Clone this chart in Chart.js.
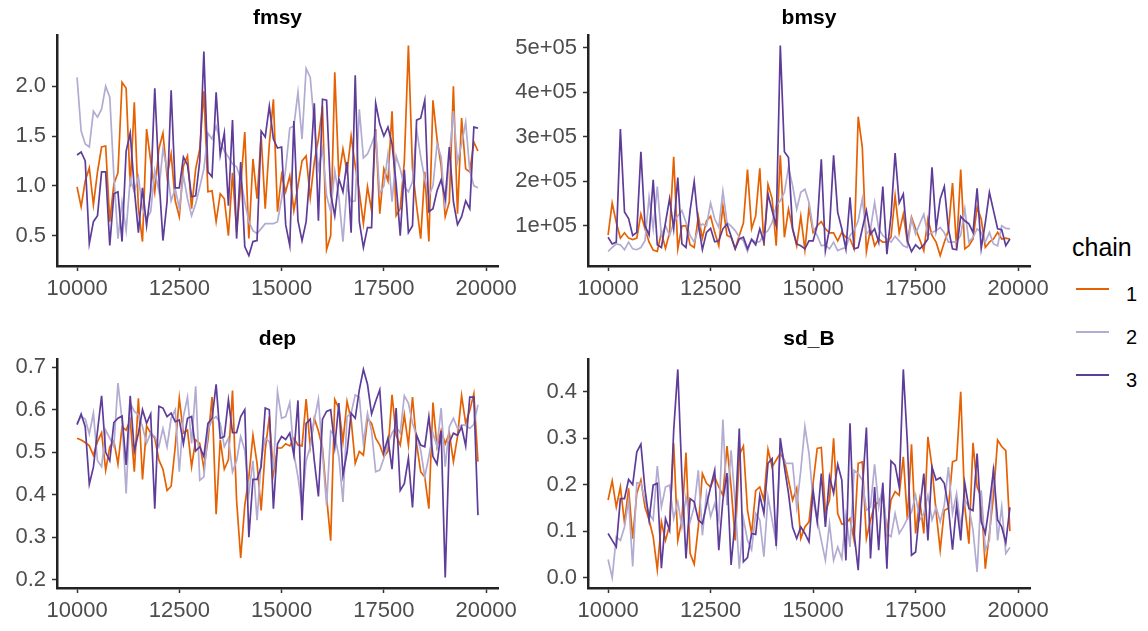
<!DOCTYPE html>
<html>
<head>
<meta charset="utf-8">
<script src="https://cdn.jsdelivr.net/npm/chart.js@4/dist/chart.umd.min.js"></script>
<style>
  body { margin: 0; background: #fff; width: 1148px; height: 631px; position: relative; overflow: hidden;
         font-family: "Liberation Sans", Arial, sans-serif; }
  canvas { position: absolute; }
  .leg-title { position: absolute; font-size: 25px; line-height: 25px; color: #000; }
  .leg-key { position: absolute; width: 33px; height: 2px; }
  .leg-lab { position: absolute; font-size: 20px; line-height: 20px; color: #000; }
</style>
</head>
<body>
<canvas id="fmsy"></canvas>
<canvas id="bmsy"></canvas>
<canvas id="dep"></canvas>
<canvas id="sdB"></canvas>

<div class="leg-title" style="left:1072px;top:235px">chain</div>
<div class="leg-key" style="left:1076px;top:288px;background:#E66101"></div>
<div class="leg-lab" style="left:1126px;top:284px">1</div>
<div class="leg-key" style="left:1076px;top:331px;background:#B2ABD2"></div>
<div class="leg-lab" style="left:1126px;top:327px">2</div>
<div class="leg-key" style="left:1076px;top:374px;background:#5E3C99"></div>
<div class="leg-lab" style="left:1126px;top:370px">3</div>

<script>
// iterations (x axis)
var iters = [
  10000,10100,10200,10300,10400,10500,10600,10700,10800,10900,
  11000,11100,11200,11300,11400,11500,11600,11700,11800,11900,
  12000,12100,12200,12300,12400,12500,12600,12700,12800,12900,
  13000,13100,13200,13300,13400,13500,13600,13700,13800,13900,
  14000,14100,14200,14300,14400,14500,14600,14700,14800,14900,
  15000,15100,15200,15300,15400,15500,15600,15700,15800,15900,
  16000,16100,16200,16300,16400,16500,16600,16700,16800,16900,
  17000,17100,17200,17300,17400,17500,17600,17700,17800,17900,
  18000,18100,18200,18300,18400,18500,18600,18700,18800,18900,
  19000,19100,19200,19300,19400,19500,19600,19700,19800
];

var chainNames = ['1', '2', '3'];
var chainColors = ['#E66101', '#B2ABD2', '#5E3C99'];

// fmsy
var fmsy1 = [
  0.99,0.79,1.05,1.18,0.81,1.14,1.39,1.40,0.64,1.02,
  1.13,2.04,1.98,0.99,1.84,0.77,0.44,1.57,1.25,0.94,
  1.37,1.53,1.10,1.32,0.85,0.69,1.20,1.30,0.77,1.17,
  1.37,1.95,0.94,0.95,0.64,0.92,0.87,0.50,1.13,0.54,
  1.00,1.54,0.47,1.27,0.87,1.50,0.77,1.42,1.87,0.74,
  1.11,0.94,1.10,0.75,1.00,1.25,1.30,0.88,1.24,1.47,
  1.80,0.36,0.50,2.14,1.09,1.37,1.14,1.50,1.20,0.94,
  0.62,0.99,0.75,1.57,0.72,1.17,1.05,1.75,0.70,0.77,
  1.24,2.41,1.17,0.80,0.47,1.14,0.44,1.86,1.47,1.20,
  0.69,0.84,2.00,0.72,1.68,1.17,1.14,1.44,1.35
];
var fmsy2 = [
  2.09,1.55,1.42,1.39,1.75,1.69,1.77,2.00,1.89,1.10,
  0.47,0.84,0.55,1.07,0.94,1.09,0.77,0.67,0.74,1.15,
  0.95,1.37,1.17,0.85,0.97,0.77,1.10,0.87,0.70,0.82,
  0.99,1.17,1.53,1.47,1.60,1.44,1.35,1.29,1.22,1.19,
  1.07,0.84,0.64,0.55,0.52,0.57,0.62,0.62,0.62,0.64,
  0.87,1.17,1.58,1.60,1.94,1.47,2.18,2.09,1.62,1.17,
  1.37,0.90,0.74,1.15,0.89,0.44,1.00,0.84,0.85,1.77,
  1.28,1.32,1.42,1.53,0.92,1.00,1.32,0.84,1.30,1.17,
  0.99,0.94,1.04,1.57,1.29,1.07,0.90,1.00,1.42,1.29,
  0.77,1.29,1.75,1.24,1.42,1.64,1.15,1.00,0.98
];
var fmsy3 = [
  1.31,1.34,1.25,0.42,0.64,0.70,1.14,1.14,0.40,0.92,
  0.94,0.44,1.35,1.53,0.97,0.53,0.98,0.60,0.95,1.98,
  1.10,0.45,0.84,1.96,0.98,0.98,1.29,1.21,0.89,0.90,
  1.25,2.35,1.14,1.09,1.94,1.31,1.53,0.80,1.66,0.47,
  1.24,0.39,0.30,0.44,0.45,1.55,1.49,1.80,1.47,1.38,
  1.39,0.61,0.40,1.65,0.65,0.45,0.64,1.17,1.83,0.65,
  1.87,1.86,0.92,0.70,1.07,0.94,1.24,0.53,2.11,0.64,
  0.38,0.58,0.58,1.83,1.62,1.50,1.59,1.42,1.02,0.50,
  1.16,0.53,0.60,1.66,1.68,1.86,0.74,0.77,0.95,1.06,
  0.87,1.39,0.84,0.61,0.69,0.85,0.77,1.59,1.58
];

// bmsy
var bmsy1 = [
  79e3,151e3,107e3,72e3,84e3,72e3,69e3,72e3,126e3,93e3,
  63e3,45e3,42e3,85e3,49e3,85e3,255e3,48e3,99e3,100e3,
  57e3,51e3,121e3,72e3,111e3,121e3,85e3,55e3,145e3,78e3,
  74e3,48e3,78e3,106e3,226e3,93e3,122e3,229e3,55e3,193e3,
  161e3,55e3,258e3,74e3,137e3,93e3,55e3,121e3,46e3,141e3,
  85e3,100e3,109e3,93e3,84e3,84e3,66e3,85e3,74e3,70e3,
  48e3,345e3,276e3,42e3,93e3,55e3,70e3,63e3,63e3,74e3,
  167e3,84e3,126e3,63e3,119e3,93e3,69e3,44e3,115e3,78e3,
  63e3,33e3,63e3,89e3,196e3,49e3,226e3,48e3,55e3,70e3,
  141e3,115e3,51e3,63e3,70e3,85e3,70e3,72e3,70e3
];
var bmsy2 = [
  42e3,51e3,59e3,57e3,46e3,63e3,48e3,46e3,51e3,66e3,
  164e3,93e3,188e3,78e3,100e3,78e3,107e3,122e3,134e3,107e3,
  78e3,63e3,93e3,104e3,100e3,151e3,115e3,96e3,178e3,107e3,
  99e3,89e3,74e3,66e3,42e3,70e3,63e3,64e3,81e3,89e3,
  107e3,145e3,156e3,175e3,231e3,190e3,137e3,175e3,182e3,152e3,
  93e3,78e3,55e3,57e3,48e3,63e3,44e3,48e3,51e3,78e3,
  89e3,111e3,160e3,81e3,93e3,152e3,93e3,78e3,70e3,63e3,
  76e3,66e3,55e3,51e3,115e3,81e3,104e3,126e3,78e3,85e3,
  89e3,96e3,84e3,63e3,63e3,64e3,78e3,137e3,63e3,74e3,
  93e3,85e3,63e3,85e3,59e3,55e3,100e3,94e3,93e3
];
var bmsy3 = [
  74e3,59e3,63e3,317e3,131e3,116e3,78e3,85e3,266e3,100e3,
  79e3,203e3,57e3,51e3,107e3,161e3,93e3,208e3,59e3,51e3,
  134e3,199e3,104e3,46e3,85e3,94e3,64e3,66e3,93e3,104e3,
  76e3,48e3,70e3,74e3,48e3,69e3,57e3,93e3,63e3,171e3,
  134e3,100e3,505e3,266e3,253e3,93e3,59e3,55e3,48e3,66e3,
  66e3,100e3,249e3,44e3,93e3,258e3,130e3,93e3,48e3,164e3,
  48e3,51e3,93e3,134e3,81e3,93e3,63e3,188e3,36e3,122e3,
  263e3,151e3,171e3,66e3,42e3,57e3,48e3,57e3,70e3,231e3,
  93e3,160e3,188e3,93e3,48e3,46e3,121e3,111e3,104e3,85e3,
  184e3,49e3,107e3,175e3,134e3,93e3,91e3,55e3,70e3
];

// dep
var dep1 = [
  0.533,0.529,0.523,0.515,0.493,0.525,0.546,0.458,0.513,0.527,
  0.472,0.560,0.552,0.576,0.454,0.627,0.436,0.562,0.545,0.533,
  0.482,0.460,0.410,0.420,0.513,0.627,0.545,0.552,0.466,0.529,
  0.521,0.462,0.529,0.630,0.354,0.529,0.460,0.482,0.645,0.387,
  0.251,0.375,0.442,0.540,0.474,0.363,0.505,0.584,0.450,0.510,
  0.510,0.520,0.515,0.533,0.517,0.515,0.625,0.513,0.580,0.550,
  0.510,0.395,0.292,0.624,0.604,0.525,0.620,0.576,0.474,0.502,
  0.493,0.580,0.568,0.533,0.517,0.490,0.502,0.635,0.540,0.517,
  0.588,0.517,0.630,0.520,0.454,0.442,0.367,0.617,0.513,0.552,
  0.520,0.545,0.478,0.537,0.633,0.568,0.598,0.638,0.478
];
var dep2 = [
  0.568,0.584,0.578,0.543,0.592,0.480,0.466,0.552,0.533,0.513,
  0.663,0.576,0.403,0.616,0.596,0.588,0.560,0.521,0.545,0.537,
  0.513,0.556,0.513,0.580,0.600,0.454,0.584,0.630,0.521,0.655,
  0.434,0.442,0.552,0.576,0.584,0.568,0.513,0.533,0.454,0.480,
  0.537,0.505,0.403,0.480,0.340,0.480,0.533,0.525,0.458,0.643,
  0.580,0.584,0.617,0.497,0.442,0.371,0.480,0.513,0.576,0.625,
  0.497,0.375,0.550,0.540,0.490,0.383,0.584,0.592,0.635,0.630,
  0.521,0.592,0.550,0.454,0.458,0.486,0.521,0.545,0.560,0.545,
  0.633,0.616,0.568,0.540,0.505,0.442,0.490,0.545,0.513,0.604,
  0.466,0.560,0.580,0.556,0.564,0.564,0.556,0.566,0.612
];
var dep3 = [
  0.565,0.590,0.560,0.425,0.465,0.550,0.633,0.500,0.480,0.570,
  0.580,0.585,0.470,0.633,0.503,0.545,0.600,0.568,0.590,0.367,
  0.608,0.604,0.584,0.592,0.572,0.576,0.520,0.580,0.584,0.503,
  0.513,0.490,0.568,0.580,0.660,0.533,0.537,0.623,0.546,0.546,
  0.584,0.600,0.300,0.436,0.436,0.466,0.604,0.600,0.367,0.520,
  0.537,0.530,0.545,0.493,0.622,0.340,0.568,0.578,0.480,0.396,
  0.578,0.596,0.600,0.513,0.616,0.446,0.500,0.592,0.580,0.647,
  0.695,0.660,0.590,0.620,0.647,0.500,0.533,0.460,0.604,0.410,
  0.426,0.486,0.370,0.540,0.517,0.513,0.584,0.490,0.472,0.550,
  0.205,0.523,0.545,0.540,0.560,0.515,0.630,0.630,0.352
];

// sd_B
var sdB1 = [
  0.167,0.208,0.152,0.195,0.118,0.192,0.084,0.181,0.210,0.152,
  0.124,0.088,0.017,0.120,0.080,0.113,0.289,0.080,0.124,0.269,
  0.052,0.029,0.109,0.224,0.203,0.195,0.217,0.195,0.177,0.283,
  0.195,0.080,0.264,0.283,0.145,0.095,0.187,0.195,0.167,0.276,
  0.238,0.253,0.267,0.253,0.210,0.167,0.192,0.084,0.109,0.120,
  0.203,0.278,0.280,0.141,0.167,0.300,0.138,0.115,0.116,0.127,
  0.080,0.246,0.249,0.084,0.124,0.156,0.163,0.181,0.095,0.167,
  0.185,0.177,0.260,0.124,0.287,0.095,0.167,0.095,0.303,0.238,
  0.141,0.059,0.145,0.149,0.249,0.253,0.400,0.152,0.073,0.290,
  0.195,0.174,0.019,0.095,0.177,0.296,0.282,0.273,0.100
];
var sdB2 = [
  0.039,0.000,0.088,0.080,0.109,0.167,0.024,0.204,0.203,0.167,
  0.138,0.124,0.240,0.152,0.195,0.199,0.127,0.163,0.109,0.174,
  0.120,0.152,0.231,0.091,0.181,0.131,0.159,0.124,0.340,0.156,
  0.274,0.159,0.019,0.127,0.080,0.060,0.138,0.124,0.045,0.174,
  0.124,0.073,0.289,0.246,0.246,0.246,0.152,0.231,0.325,0.267,
  0.167,0.124,0.080,0.037,0.116,0.037,0.066,0.041,0.134,0.066,
  0.231,0.224,0.210,0.145,0.152,0.244,0.152,0.195,0.095,0.088,
  0.138,0.095,0.109,0.127,0.141,0.177,0.124,0.138,0.177,0.124,
  0.152,0.120,0.156,0.238,0.138,0.181,0.109,0.167,0.152,0.102,
  0.012,0.188,0.059,0.080,0.240,0.080,0.152,0.052,0.065
];
var sdB3 = [
  0.095,0.080,0.066,0.170,0.170,0.211,0.200,0.270,0.287,0.190,
  0.124,0.199,0.203,0.020,0.127,0.102,0.317,0.448,0.217,0.041,
  0.170,0.163,0.124,0.116,0.156,0.195,0.231,0.059,0.167,0.225,
  0.027,0.124,0.321,0.034,0.043,0.095,0.093,0.177,0.138,0.246,
  0.256,0.068,0.300,0.238,0.181,0.108,0.084,0.109,0.095,0.077,
  0.188,0.120,0.224,0.109,0.217,0.182,0.244,0.210,0.037,0.332,
  0.095,0.016,0.188,0.323,0.041,0.195,0.059,0.204,0.019,0.251,
  0.242,0.195,0.448,0.289,0.048,0.055,0.145,0.224,0.080,0.238,
  0.210,0.215,0.203,0.152,0.060,0.156,0.080,0.203,0.149,0.144,
  0.267,0.120,0.095,0.158,0.231,0.124,0.109,0.075,0.151
];

// tick labels
var xTicks = [10000, 12500, 15000, 17500, 20000];
var fmsyTicks = [0.5, 1.0, 1.5, 2.0];
var bmsyTicks = [1e5, 2e5, 3e5, 4e5, 5e5];
var depTicks = [0.2, 0.3, 0.4, 0.5, 0.6, 0.7];
var sdBTicks = [0.0, 0.1, 0.2, 0.3, 0.4];

Chart.defaults.font.family = '"Liberation Sans", Arial, sans-serif';

// ggplot-like 5% expansion of the data range
function expand(arrs) {
    var all = [].concat.apply([], arrs);
    var lo = Math.min.apply(null, all), hi = Math.max.apply(null, all);
    var pad = (hi - lo) * 0.05;
    return [lo - pad, hi + pad];
}

function oneDecimal(v) { return v.toFixed(1); }
function sci(v) { return Math.round(v / 1e5) + 'e+05'; }

function axisStyle() {
    return {
        grid: { drawOnChartArea: false, drawTicks: true, tickLength: 5, tickWidth: 1.5, tickColor: '#333' },
        border: { display: true, color: '#222', width: 2.5 }
    };
}

// canvas = [left, top, w, h], area = [left, top, right, bottom] of the plot panel
function makePanel(id, title, chains, yTicks, fmt, canvas, area, tpad) {
    var cv = document.getElementById(id);
    cv.style.left = canvas[0] + 'px';
    cv.style.top = canvas[1] + 'px';
    cv.width = canvas[2];
    cv.height = canvas[3];

    var xr = expand([iters]);
    var yr = expand(chains);
    var titleH = area[1] - canvas[1];
    var xStyle = axisStyle(), yStyle = axisStyle();

    new Chart(cv, {
        type: 'line',
        data: {
            // chain 1 drawn first, chain 3 on top
            datasets: [2, 1, 0].map(function (k) {
                return {
                    label: chainNames[k],
                    data: iters.map(function (x, j) { return { x: x, y: chains[k][j] }; }),
                    borderColor: chainColors[k],
                    borderWidth: 1.7,
                    pointRadius: 0,
                    tension: 0,
                    fill: false
                };
            })
        },
        options: {
            responsive: false,
            animation: false,
            devicePixelRatio: 1,
            events: [],
            layout: { padding: { left: 0, top: 0, bottom: 0, right: canvas[0] + canvas[2] - area[2] } },
            plugins: {
                legend: { display: false },
                tooltip: { enabled: false },
                title: {
                    display: true,
                    text: title,
                    fullSize: false,
                    color: '#000',
                    font: { size: 21, weight: 'bold', lineHeight: 1.2 },
                    padding: { top: tpad, bottom: titleH - tpad - 25.2 }
                }
            },
            scales: {
                x: {
                    type: 'linear',
                    bounds: 'data',
                    min: xr[0],
                    max: xr[1],
                    afterFit: function (s) { s.height = canvas[1] + canvas[3] - area[3]; },
                    afterBuildTicks: function (s) { s.ticks = xTicks.map(function (v) { return { value: v }; }); },
                    grid: xStyle.grid,
                    border: xStyle.border,
                    ticks: {
                        color: '#4d4d4d', font: { size: 22 }, padding: 5,
                        maxRotation: 0, autoSkip: false,
                        callback: function (v) { return String(v); }
                    }
                },
                y: {
                    type: 'linear',
                    bounds: 'data',
                    min: yr[0],
                    max: yr[1],
                    afterFit: function (s) { s.width = area[0] - canvas[0]; },
                    afterBuildTicks: function (s) { s.ticks = yTicks.map(function (v) { return { value: v }; }); },
                    grid: yStyle.grid,
                    border: yStyle.border,
                    ticks: {
                        color: '#4d4d4d', font: { size: 22 }, padding: 6, autoSkip: false,
                        callback: function (v) { return fmt(v); }
                    }
                }
            }
        }
    });
}

makePanel('fmsy', 'fmsy', [fmsy1, fmsy2, fmsy3], fmsyTicks, oneDecimal,
          [0, 0, 540, 320], [57, 35, 498, 266], 5.7);
makePanel('bmsy', 'bmsy', [bmsy1, bmsy2, bmsy3], bmsyTicks, sci,
          [510, 0, 550, 320], [588, 35, 1030, 266], 5.7);
makePanel('dep', 'dep', [dep1, dep2, dep3], depTicks, oneDecimal,
          [0, 320, 540, 311], [57, 359, 498, 588], 6.7);
makePanel('sdB', 'sd_B', [sdB1, sdB2, sdB3], sdBTicks, oneDecimal,
          [510, 320, 550, 311], [588, 359, 1030, 588], 6.7);
</script>
</body>
</html>
